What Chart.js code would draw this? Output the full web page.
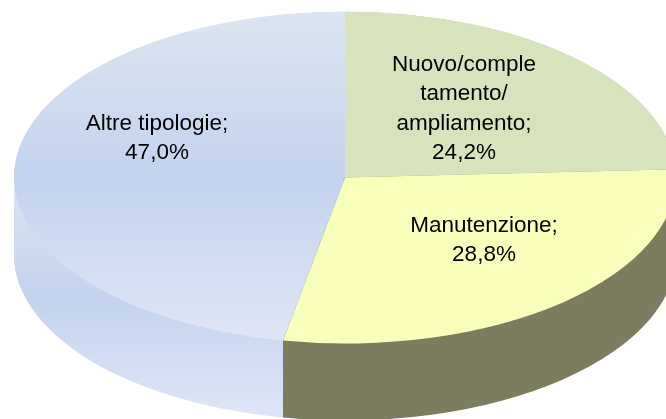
<!DOCTYPE html>
<html>
<head>
<meta charset="utf-8">
<style>
  html, body { margin: 0; padding: 0; background: #fff; }
  canvas { display: block; }
</style>
<script src="https://cdn.jsdelivr.net/npm/chart.js@4"></script>
</head>
<body>
<canvas id="myChart" width="666" height="419"></canvas>
<script>
const categories = ['Nuovo/completamento/ampliamento', 'Manutenzione', 'Altre tipologie']
const values = [24.2, 28.8, 47.0]
const labelLines = [['Nuovo/comple', 'tamento/', 'ampliamento;'], ['Manutenzione;'], ['Altre tipologie;']]

// pie shape on the page
const CX = 345, CY = 177.5, RX = 331, RY = 166, DEPTH = 77
const labelSpots = [[464, 71], [484, 232], [157, 130]]
const LINE_H = 29.3

const topColors = ['#d7e3bc', '#f7ffbb', null]
const sideColor = '#7b7d5e'
const blueStops = ['#dbe5f1', '#c3d3ee', '#dfe6f6']

function fmt(v) {
    return v.toFixed(1).replace('.', ',') + '%'
}

// vertical gradient given in page y, turned into the squashed arc space
function blueGradient(ctx, arc, y0, y1, d) {
    const sy = RY / arc.outerRadius
    const g = ctx.createLinearGradient(0, arc.y + (y0 - CY - d) / sy, 0, arc.y + (y1 - CY - d) / sy)
    g.addColorStop(0, blueStops[0])
    g.addColorStop(0.5, blueStops[1])
    g.addColorStop(1, blueStops[2])
    return g
}

function squash(ctx, arc, d) {
    ctx.translate(CX, CY + d)
    ctx.scale(RX / arc.outerRadius, RY / arc.outerRadius)
    ctx.translate(-arc.x, -arc.y)
}

const pie3d = {
    id: 'pie3d',
    beforeDatasetsDraw(chart) {
        const ctx = chart.ctx
        const arcs = chart.getDatasetMeta(0).data

        // side wall: the same slices stacked from the bottom up
        for (let d = DEPTH; d > 0; d -= 0.5) {
            ctx.save()
            squash(ctx, arcs[0], d)
            arcs.forEach((arc, i) => {
                const saved = arc.options
                const fill = i < 2 ? sideColor : blueGradient(ctx, arc, 178, 419, d)
                arc.options = Object.assign({}, saved, { backgroundColor: fill })
                arc.draw(ctx)
                arc.options = saved
            })
            ctx.restore()
        }

        // stacking leaves rounding stripes in the dark wall, flatten them
        const cutX = Math.round(CX + RX * Math.cos(arcs[1].endAngle))
        ctx.save()
        ctx.globalCompositeOperation = 'source-atop'
        ctx.fillStyle = sideColor
        ctx.fillRect(cutX, 0, chart.width - cutX, chart.height)
        ctx.restore()

        ctx.save()
        squash(ctx, arcs[0], 0)
        arcs.forEach((arc, i) => {
            const fill = topColors[i] || blueGradient(ctx, arc, 12, 343, 0)
            arc.options = Object.assign({}, arc.options, { backgroundColor: fill })
        })
    },
    afterDatasetsDraw(chart) {
        chart.ctx.restore()
    },
    afterDraw(chart) {
        const ctx = chart.ctx
        ctx.save()
        ctx.fillStyle = '#000'
        ctx.font = '22.5px "Liberation Sans", Arial, sans-serif'
        ctx.textAlign = 'center'
        ctx.textBaseline = 'alphabetic'
        labelLines.forEach((lines, i) => {
            const all = lines.concat(fmt(values[i]))
            all.forEach((t, j) => {
                ctx.fillText(t, labelSpots[i][0], labelSpots[i][1] + j * LINE_H)
            })
        })
        ctx.restore()
    }
}

new Chart(document.getElementById('myChart'), {
    type: 'pie',
    data: {
        labels: categories,
        datasets: [{
            data: values,
            backgroundColor: ['#d7e3bc', '#f7ffbb', '#c3d3ee'],
            borderWidth: 0,
            clip: false
        }]
    },
    options: {
        responsive: false,
        animation: false,
        plugins: {
            legend: { display: false },
            tooltip: { enabled: false }
        }
    },
    plugins: [pie3d]
})
</script>
</body>
</html>
